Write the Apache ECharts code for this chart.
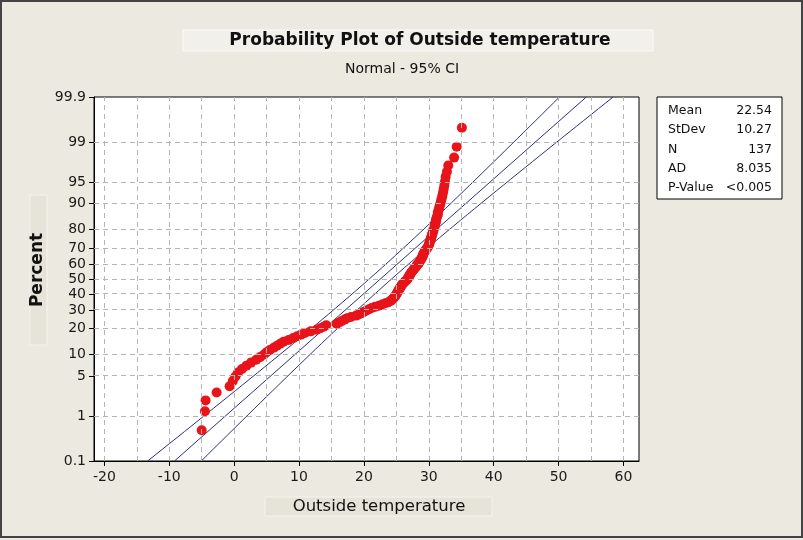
<!DOCTYPE html>
<html><head><meta charset="utf-8">
<script src="https://cdn.jsdelivr.net/npm/echarts@6/dist/echarts.min.js"></script>
<style>html,body{margin:0;padding:0;background:#ECE9E0;}#c{width:803px;height:540px;}</style>
</head><body><div id="c"></div>
<script>
// Sorted sample values (Outside temperature), rank 1..137
const temps = [
 -5.0,-4.5,-4.4,-2.7,-0.7,-0.2,0.2,0.6,1.2,1.9,
 2.6,3.4,4.0,4.6,5.0,5.5,6.1,6.6,7.1,7.6,
 8.4,9.1,9.7,10.3,10.9,11.8,12.7,13.3,13.8,14.2,
 15.8,16.2,16.6,17.0,17.4,18.0,18.8,19.3,19.7,20.0,
 20.4,20.8,21.2,21.7,22.3,22.8,23.3,23.8,24.1,24.3,
 24.5,24.6,24.8,24.9,25.0,25.1,25.2,25.3,25.4,25.5,
 25.6,25.7,25.8,25.9,26.1,26.2,26.4,26.6,26.7,26.8,
 26.9,27.0,27.1,27.2,27.3,27.4,27.6,27.7,27.8,28.0,
 28.1,28.2,28.4,28.5,28.6,28.7,28.8,28.9,29.0,29.1,
 29.1,29.2,29.3,29.4,29.5,29.7,29.8,29.9,30.0,30.1,
 30.1,30.2,30.3,30.3,30.4,30.5,30.5,30.6,30.7,30.7,
 30.8,30.9,30.9,31.0,31.1,31.1,31.2,31.3,31.4,31.4,
 31.5,31.6,31.7,31.8,31.9,32.0,32.1,32.2,32.3,32.4,
 32.5,32.6,32.8,33.0,33.9,34.3,35.1
];
const percentTicks = [0.1,1,5,10,20,30,40,50,60,70,80,90,95,99,99.9];
const xTicks = [-20,-10,0,10,20,30,40,50,60];
const xGridValues = [-20,-15,-10,-5,0,5,10,15,20,25,30,35,40,45,50,55,60];
const statLabels = ['Mean','StDev','N','AD','P-Value'];
const statValues = ['22.54','10.27','137','8.035','<0.005'];
const fitMean = 22.54, fitSd = 10.27, nObs = 137;
const xMin = -21.6, xMax = 62.4;

function probit(p){
 const a=[-3.969683028665376e+01,2.209460984245205e+02,-2.759285104469687e+02,1.383577518672690e+02,-3.066479806614716e+01,2.506628277459239e+00];
 const b=[-5.447609879822406e+01,1.615858368580409e+02,-1.556989798598866e+02,6.680131188771972e+01,-1.328068155288572e+01];
 const c=[-7.784894002430293e-03,-3.223964580411365e-01,-2.400758277161838e+00,-2.549732539343734e+00,4.374664141464968e+00,2.938163982698783e+00];
 const d=[7.784695709041462e-03,3.224671290700398e-01,2.445134137142996e+00,3.754408661907416e+00];
 const pl=0.02425, ph=1-pl; let q,r;
 if(p<pl){q=Math.sqrt(-2*Math.log(p));return (((((c[0]*q+c[1])*q+c[2])*q+c[3])*q+c[4])*q+c[5])/((((d[0]*q+d[1])*q+d[2])*q+d[3])*q+1);}
 if(p<=ph){q=p-0.5;r=q*q;return (((((a[0]*r+a[1])*r+a[2])*r+a[3])*r+a[4])*r+a[5])*q/(((((b[0]*r+b[1])*r+b[2])*r+b[3])*r+b[4])*r+1);}
 q=Math.sqrt(-2*Math.log(1-p));return -(((((c[0]*q+c[1])*q+c[2])*q+c[3])*q+c[4])*q+c[5])/((((d[0]*q+d[1])*q+d[2])*q+d[3])*q+1);
}
const zMin = probit(percentTicks[0]/100), zMax = probit(percentTicks[percentTicks.length-1]/100);
const yTickZ = percentTicks.map(p=>probit(p/100));
function pctLabel(v){
  let best=0, bd=1e9;
  yTickZ.forEach((z,i)=>{const dd=Math.abs(z-v); if(dd<bd){bd=dd;best=i;}});
  return String(percentTicks[best]);
}
// points at median-rank plotting positions
const pts = temps.map((t,i)=>[t, probit((i+1-0.3)/(nObs+0.4))]);
// fitted line and 95% CI
const fitLine = [[fitMean+fitSd*zMin, zMin],[fitMean+fitSd*zMax, zMax]];
const ciLo=[], ciHi=[];
for(let k=0;k<=62;k++){
  const z = zMin + (zMax-zMin)*k/62;
  const half = 1.96*fitSd*Math.sqrt((1+z*z/2)/nObs);
  ciLo.push([fitMean+fitSd*z-half, z]);
  ciHi.push([fitMean+fitSd*z+half, z]);
}

const FONT = 'DejaVu Sans';
const chart = echarts.init(document.getElementById('c'), null, {renderer:'canvas'});
const gridStyle = {color:'#b4b4b4', type:[5,4], width:1};
const lineColor = '#2f2f80';
chart.setOption({
  backgroundColor:'#ECE9E0',
  animation:false,
  grid:{left:94,right:164,top:97,bottom:79,show:true,backgroundColor:'#ffffff',borderColor:'#000000',borderWidth:1},
  xAxis:{type:'value',min:xMin,max:xMax,
    axisLine:{show:true,onZero:false,lineStyle:{color:'#000'}},
    axisTick:{show:true,length:5,customValues:xTicks,lineStyle:{color:'#000'}},
    axisLabel:{customValues:xTicks,color:'#1a1a1a',fontFamily:FONT,fontSize:14,margin:9},
    splitLine:{show:false}},
  yAxis:{type:'value',min:zMin,max:zMax,
    axisLine:{show:true,onZero:false,lineStyle:{color:'#000'}},
    axisTick:{show:true,length:5,customValues:yTickZ,lineStyle:{color:'#000'}},
    axisLabel:{customValues:yTickZ,formatter:pctLabel,color:'#1a1a1a',fontFamily:FONT,fontSize:14,margin:8},
    splitLine:{show:false}},
  series:[
    {type:'line',data:[],z:1,silent:true,
     markLine:{silent:true,symbol:'none',label:{show:false},lineStyle:gridStyle,animation:false,
       data:[...xGridValues.map(v=>({xAxis:v})), ...yTickZ.slice(1,-1).map(v=>({yAxis:v}))]}},
    {type:'line',data:ciLo,showSymbol:false,symbol:'none',z:2,lineStyle:{color:lineColor,width:1},silent:true},
    {type:'line',data:fitLine,showSymbol:false,symbol:'none',z:2,lineStyle:{color:lineColor,width:1},silent:true},
    {type:'line',data:ciHi,showSymbol:false,symbol:'none',z:2,lineStyle:{color:lineColor,width:1},silent:true},
    {type:'scatter',data:pts,symbol:'circle',symbolSize:10,z:3,itemStyle:{color:'#e8141a',opacity:1}}
  ],
  graphic:[
    {type:'rect',shape:{x:183,y:30,width:470,height:21},style:{fill:'#F2F0EA',stroke:'#FBFAF7',lineWidth:1},z:0},
    {type:'text',x:420,y:41,style:{text:'Probability Plot of Outside temperature',font:'bold 17px '+FONT,fill:'#111',align:'center',verticalAlign:'middle'}},
    {type:'text',x:402,y:69,style:{text:'Normal - 95% CI',font:'14px '+FONT,fill:'#111',align:'center',verticalAlign:'middle'}},
    {type:'rect',shape:{x:30,y:195,width:17,height:150},style:{fill:'#E6E4D8',stroke:'#F4F3EE',lineWidth:1}},
    {type:'text',x:38,y:270,rotation:Math.PI/2,style:{text:'Percent',font:'bold 17px '+FONT,fill:'#111',align:'center',verticalAlign:'middle'}},
    {type:'rect',shape:{x:265,y:497,width:227,height:19},style:{fill:'#E6E4D8',stroke:'#F4F3EE',lineWidth:1}},
    {type:'text',x:379,y:507,style:{text:'Outside temperature',font:'16.5px '+FONT,fill:'#111',align:'center',verticalAlign:'middle'}},
    {type:'rect',shape:{x:657,y:97,width:125,height:102},style:{fill:'#ffffff',stroke:'#000',lineWidth:1}},
    ...statLabels.map((s,i)=>({type:'text',x:668,y:111+i*19.2,style:{text:s,font:'12.5px '+FONT,fill:'#111',align:'left',verticalAlign:'middle'}})),
    ...statValues.map((s,i)=>({type:'text',x:772,y:111+i*19.2,style:{text:s,font:'12.5px '+FONT,fill:'#111',align:'right',verticalAlign:'middle'}})),
    {type:'rect',shape:{x:1,y:1,width:801,height:536},style:{fill:'none',stroke:'#444',lineWidth:2},silent:true}
  ]
});
</script></body></html>
